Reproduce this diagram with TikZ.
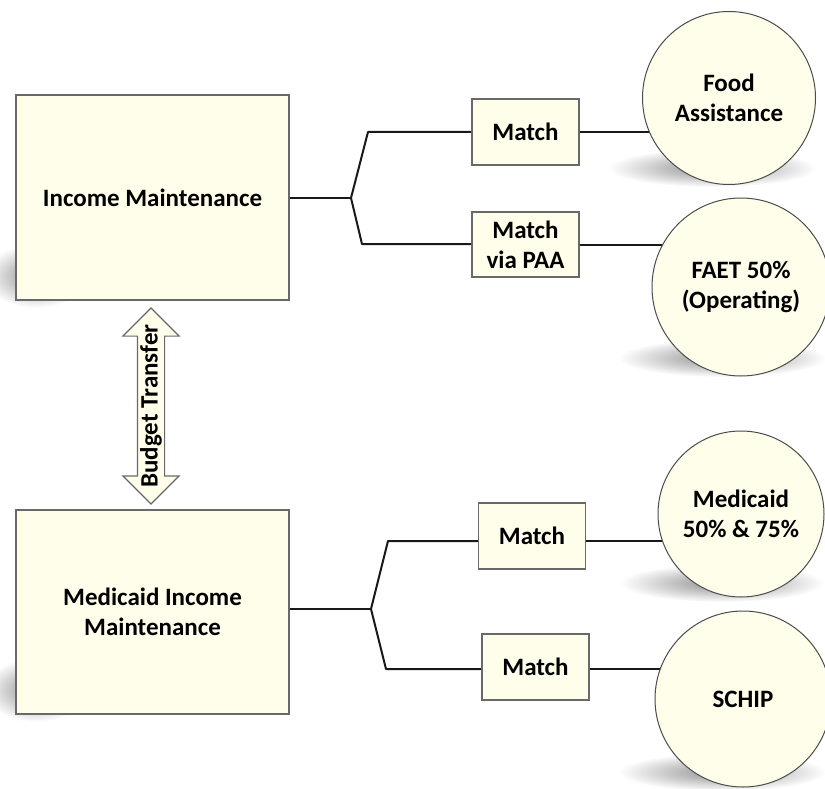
\documentclass[tikz,border=0pt]{standalone}
\usepackage{fontspec}
\setmainfont{Carlito}
\usetikzlibrary{shapes.arrows}
\definecolor{cream}{RGB}{255,254,234}
\definecolor{edgegray}{RGB}{105,105,105}
\pgfdeclarelayer{shadowlayer}
\pgfdeclarelayer{linelayer}
\pgfsetlayers{shadowlayer,linelayer,main}
\begin{document}
\begin{tikzpicture}[x=1pt,y=-1pt,
  lbl/.style={font=\fontsize{25}{30}\selectfont\bfseries, align=center},
  bigbox/.style={lbl, draw=edgegray, line width=1.6pt, fill=cream, minimum width=273pt, minimum height=205pt, inner sep=0pt},
  matchbox/.style={lbl, draw=edgegray, line width=1.4pt, fill=cream, minimum width=107pt, minimum height=66pt, inner sep=0pt},
  fund/.style={lbl, circle, draw=black!70, line width=1pt, fill=cream, inner sep=0pt},
  wire/.style={line width=2pt, draw=black!90, line join=round},
  softshadow/.style={inner color=black!45, outer color=white}
]
\useasboundingbox (0,0) rectangle (825,789);

% boxes
\node[bigbox] (im) at (152.5,197.5) {Income Maintenance};
\node[bigbox, minimum height=204pt] (mim) at (152.5,612) {Medicaid Income\\Maintenance};

% match boxes
\node[matchbox] (m1) at (525.5,132) {Match};
\node[matchbox, minimum height=65pt] (m2) at (525.5,244.5) {Match\\via PAA};
\node[matchbox] (m3) at (532,536) {Match};
\node[matchbox] (m4) at (535.5,667) {Match};

% funds
\node[fund, minimum size=173pt] (food) at (729,98) {Food\\Assistance};
\node[fund, minimum size=178pt] (faet) at (741,287) {FAET 50\%\\(Operating)};
\node[fund, minimum size=166pt] (medi) at (741,514) {Medicaid\\50\% \& 75\%};
\node[fund, minimum size=176pt] (schip) at (743,699) {SCHIP};

% budget transfer arrow
\node[double arrow, draw=edgegray, line width=1.2pt, fill=cream, rotate=90,
      minimum height=196pt, inner xsep=0pt, inner ysep=13pt,
      double arrow head extend=14.5pt] (bt) at (151,406) {};
\node[lbl, rotate=90, inner sep=0pt] (btl) at (bt.center) {Budget Transfer};

% connectors
\coordinate (f1) at (351,198);
\coordinate (a1) at (368,132);
\coordinate (b1) at (362,244);
\coordinate (f2) at (371,609);
\coordinate (a2) at (388,541);
\coordinate (b2) at (386,669);
\begin{pgfonlayer}{linelayer}
\draw[wire] (im.east |- f1) -- (f1);
\draw[wire] (f1) -- (a1) -- (a1 -| m1.west);
\draw[wire] (f1) -- (b1) -- (b1 -| m2.west);
\draw[wire] (m1.east) -- (m1.east -| food.center);
\draw[wire] (m2.east) -- (m2.east -| faet.center);
\draw[wire] (mim.east |- f2) -- (f2);
\draw[wire] (f2) -- (a2) -- (a2 -| m3.west);
\draw[wire] (f2) -- (b2) -- (b2 -| m4.west);
\draw[wire] (m3.east |- a2) -- (a2 -| medi.center);
\draw[wire] (m4.east |- b2) -- (b2 -| schip.center);
\end{pgfonlayer}

% shadows
\begin{pgfonlayer}{shadowlayer}
\fill[white] (0,0) rectangle (825,789);
\shade[softshadow] (712,168) ellipse [x radius=104, y radius=19];
\shade[softshadow] (722,358) ellipse [x radius=104, y radius=19];
\shade[softshadow] (722,583) ellipse [x radius=102, y radius=19];
\shade[softshadow] (722,772) ellipse [x radius=104, y radius=19];
\shade[softshadow] (36,276) ellipse [x radius=52, y radius=32];
\shade[softshadow] (36,690) ellipse [x radius=52, y radius=32];
\end{pgfonlayer}
\end{tikzpicture}
\end{document}
